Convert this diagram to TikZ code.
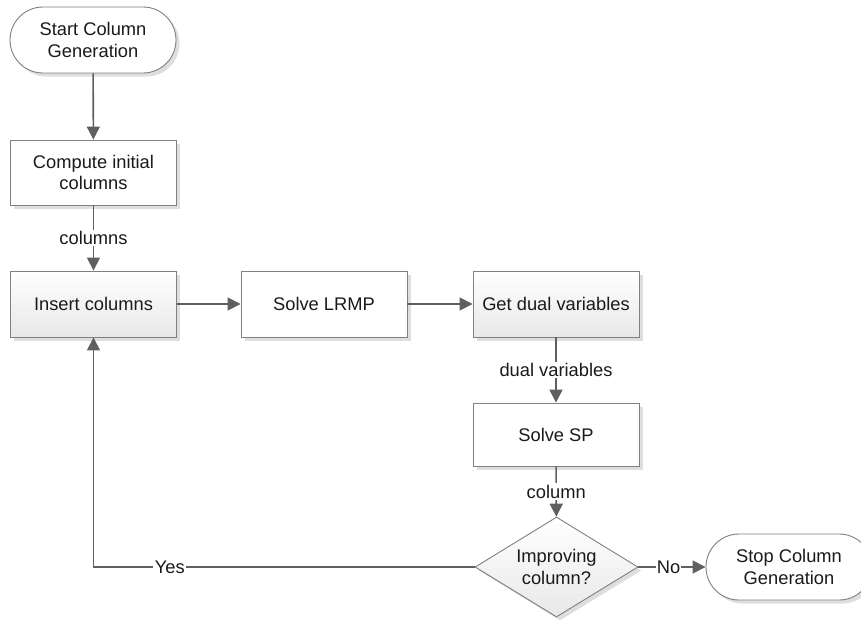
\documentclass[tikz,border=0pt]{standalone}
\usepackage{fontspec}
\setmainfont{Liberation Sans}
\usetikzlibrary{shapes.geometric,arrows.meta,shadows}
\definecolor{bordergray}{HTML}{808080}
\definecolor{linegray}{HTML}{5F5F5F}
\definecolor{textgray}{HTML}{1A1A1A}
\begin{document}
\begin{tikzpicture}[x=1pt,y=-1pt,
  every node/.style={font=\fontsize{18.3}{21.7}\selectfont, text=textgray},
  shad/.style={drop shadow={shadow xshift=3.5pt,shadow yshift=-3.5pt,fill=black!13,opacity=1}},
  procbox/.style={draw=bordergray, line width=0.9pt, fill=white, shad, minimum width=166pt, minimum height=66pt, inner sep=0pt, align=center},
  graded/.style={top color=white, bottom color=black!9},
  termbox/.style={procbox, rounded corners=33pt},
  decbox/.style={diamond, draw=bordergray, line width=0.9pt, graded, shad, minimum width=163pt, minimum height=100pt, aspect=1.63, inner sep=0pt, align=center},
  conn/.style={draw=linegray, line width=1.6pt, -{Triangle[length=13pt,width=13pt]}},
  lbl/.style={fill=white, inner sep=1.5pt}
]
\useasboundingbox (0,0) rectangle (861,619);
\node[termbox] (start) at (93,40) {Start Column\\Generation};
\node[procbox, minimum height=65pt] (init) at (93.5,172.5) {Compute initial\\columns};
\node[procbox, graded] (insert) at (93.5,304) {Insert columns};
\node[procbox] (lrmp) at (324,304) {Solve LRMP};
\node[procbox, graded] (dual) at (556,304) {Get dual variables};
\node[procbox, minimum height=63pt] (sp) at (556,434.5) {Solve SP};
\node[decbox] (dec) at (556.5,567) {Improving\\column?};
\node[termbox] (stop) at (789,567) {Stop Column\\Generation};

\coordinate (corner) at (insert.south |- dec.west);

\draw[conn] (start) -- (init);
\draw[conn] (init) -- node[lbl, pos=0.5] {columns} (insert);
\draw[conn] (insert) -- (lrmp);
\draw[conn] (lrmp) -- (dual);
\draw[conn] (dual) -- node[lbl, pos=0.5] {dual variables} (sp);
\draw[conn] (sp) -- node[lbl, pos=0.5] {column} (dec);
\draw[conn] (dec.west) -- node[lbl, pos=0.80] {Yes} (corner) -- (insert.south);
\draw[conn] (dec.east) -- node[lbl, pos=0.45, inner sep=0.5pt] {No} (stop.west);
\end{tikzpicture}
\end{document}
